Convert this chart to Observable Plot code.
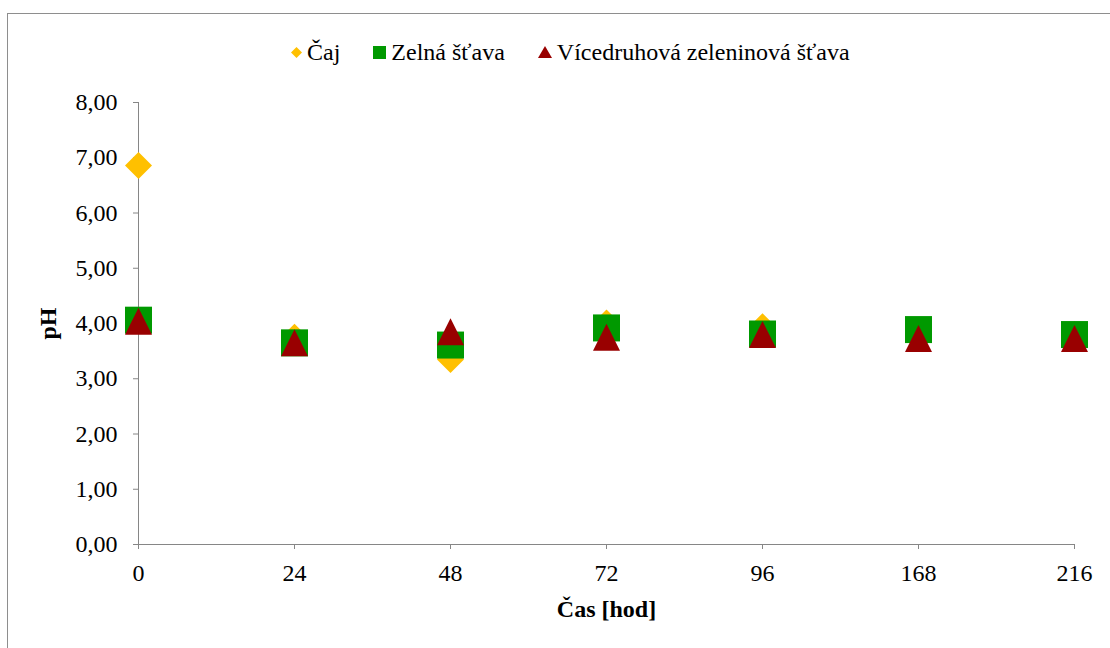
<!DOCTYPE html>
<html>
<head>
<meta charset="utf-8">
<script src="https://cdn.jsdelivr.net/npm/d3@7"></script>
<script src="https://cdn.jsdelivr.net/npm/@observablehq/plot@0.6"></script>
<style>
  html, body { margin: 0; padding: 0; background: white; }
  #chart { position: relative; width: 1110px; height: 648px; overflow: hidden; background: white;
           font-family: "Liberation Serif", "Times New Roman", serif; }
  #frame { position: absolute; left: 7px; top: 13px; width: 1200px; height: 800px;
           border: 1px solid #8e8e8e; pointer-events: none; }
  #legend { height: 28px; padding-top: 38px; padding-bottom: 9px; display: flex; align-items: center;
            padding-left: 291px; font-size: 24px; line-height: 28px; color: black; }
  #legend .item { display: flex; align-items: center; margin-right: 33px; }
  #legend svg { margin-right: 5px; }
  g[aria-label="y-axis label"] text, g[aria-label="x-axis label"] text { font-weight: bold; }
</style>
</head>
<body>
<div id="chart">
  <div id="legend"></div>
  <div id="plot"></div>
  <div id="frame"></div>
</div>
<script>
const times = ["0", "24", "48", "72", "96", "168", "216"];
const seriesNames = ["Čaj", "Zelná šťava", "Vícedruhová zeleninová šťava"];
const caj = [6.86, 3.75, 3.35, 4.01, 3.94, 3.88, 3.80];
const zelna = [4.06, 3.65, 3.61, 3.92, 3.81, 3.89, 3.80];
const vicedruhova = [4.04, 3.65, 3.85, 3.75, 3.80, 3.73, 3.73];
const colors = ["#FFC000", "#009900", "#990000"];
const yTicks = [0, 1, 2, 3, 4, 5, 6, 7, 8];

const diamondSym = {draw(c, size) { const h = Math.sqrt(size) / 2; c.moveTo(0, -h); c.lineTo(h, 0); c.lineTo(0, h); c.lineTo(-h, 0); c.closePath(); }};
const squareSym = {draw(c, size) { const h = Math.sqrt(size) / 2; c.moveTo(-h, -h); c.lineTo(h, -h); c.lineTo(h, h); c.lineTo(-h, h); c.closePath(); }};
const triangleSym = {draw(c, size) { const h = Math.sqrt(size) / 2; c.moveTo(0, -h); c.lineTo(h, h); c.lineTo(-h, h); c.closePath(); }};
const symbols = [diamondSym, squareSym, triangleSym];
const allValues = [caj, zelna, vicedruhova];

const rows = allValues.map(vals => times.map((t, i) => ({t, v: vals[i]})));
const R = 27 / Math.sqrt(Math.PI);
const fmt = d => d.toFixed(2).replace(".", ",");
const axisColor = "#868686";

const chart = Plot.plot({
  width: 1110,
  height: 573,
  marginLeft: 138,
  marginRight: 36,
  marginTop: 27,
  marginBottom: 104,
  style: {fontFamily: "'Liberation Serif', 'Times New Roman', serif", fontSize: "24px", background: "white", color: "black", overflow: "visible"},
  x: {type: "point", domain: times, padding: 0, round: false},
  y: {domain: [0, 8]},
  marks: [
    Plot.ruleY([0], {stroke: axisColor}),
    Plot.ruleX([times[0]], {y1: 0, y2: 8, stroke: axisColor}),
    Plot.axisY({ticks: yTicks, tickFormat: fmt, tickSize: 5, tickPadding: 16, stroke: axisColor, fill: "black",
                label: "pH", labelAnchor: "center", labelArrow: "none", labelOffset: 100}),
    Plot.axisX({tickSize: 5, tickPadding: 14, stroke: axisColor, fill: "black",
                label: "Čas [hod]", labelAnchor: "center", labelArrow: "none", labelOffset: 72}),
    ...rows.map((data, k) => Plot.dot(data, {x: "t", y: "v", symbol: symbols[k], r: R, fill: colors[k], stroke: "none"}))
  ]
});
document.getElementById("plot").appendChild(chart);

// legend
const legend = document.getElementById("legend");
const legendShapes = [
  `<svg width="11" height="11"><path d="M5.5 0 L11 5.5 L5.5 11 L0 5.5 Z" fill="${colors[0]}"/></svg>`,
  `<svg width="13" height="13"><rect width="13" height="13" fill="${colors[1]}"/></svg>`,
  `<svg width="14" height="12"><path d="M7 0 L14 12 L0 12 Z" fill="${colors[2]}"/></svg>`
];
seriesNames.forEach((name, k) => {
  const item = document.createElement("div");
  item.className = "item";
  item.innerHTML = legendShapes[k] + `<span>${name}</span>`;
  legend.appendChild(item);
});
</script>
</body>
</html>
